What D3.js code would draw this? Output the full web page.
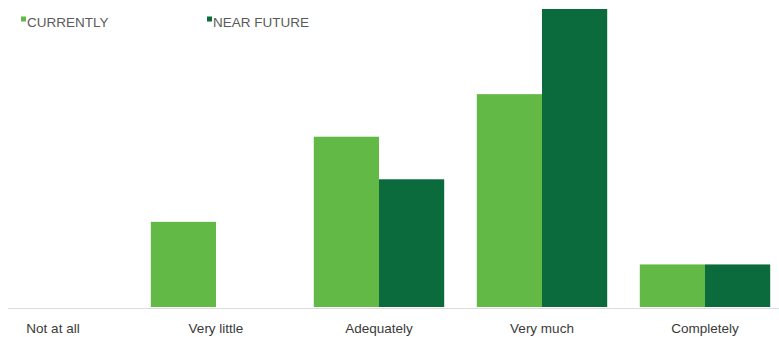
<!DOCTYPE html>
<html>
<head>
<meta charset="utf-8">
<script src="https://cdn.jsdelivr.net/npm/d3@7/dist/d3.min.js"></script>
<style>
  html, body { margin: 0; padding: 0; background: #ffffff; }
  svg { display: block; font-family: "Liberation Sans", Arial, sans-serif; }
</style>
</head>
<body>
<svg id="chart" width="779" height="337"></svg>
<script>
// Response categories along the x axis
const categories = ["Not at all", "Very little", "Adequately", "Very much", "Completely"];
// Series names (legend) and their colours
const seriesNames = ["CURRENTLY", "NEAR FUTURE"];
const seriesColors = ["#62b946", "#0b6b3c"];
// Number of responses per category
const currently = [0, 2, 4, 5, 1];
const nearFuture = [0, 0, 3, 7, 1];

const seriesValues = [currently, nearFuture];
const W = 779, H = 337;
const baseY = 307, topY = 9;

const svg = d3.select("#chart");

const x0 = d3.scaleBand()
  .domain(categories)
  .range([-28.5, 786.5])
  .paddingInner(0.2)
  .paddingOuter(0.1);

const x1 = d3.scaleBand()
  .domain(seriesNames)
  .range([0, x0.bandwidth()])
  .padding(0);

const y = d3.scaleLinear()
  .domain([0, 7])
  .range([baseY, topY]);

const color = d3.scaleOrdinal().domain(seriesNames).range(seriesColors);

// Baseline
svg.append("line")
  .attr("x1", 8).attr("x2", W)
  .attr("y1", baseY + 1.5).attr("y2", baseY + 1.5)
  .attr("stroke", "#dcdcdc").attr("stroke-width", 1);

// Bars
const rows = categories.map((c, i) => ({
  cat: c,
  vals: seriesNames.map((s, j) => ({ s, v: seriesValues[j][i] }))
}));

const groups = svg.append("g").selectAll("g")
  .data(rows)
  .join("g")
  .attr("transform", d => `translate(${x0(d.cat)},0)`);

groups.selectAll("rect")
  .data(d => d.vals.filter(e => e.v > 0))
  .join("rect")
  .attr("x", d => x1(d.s))
  .attr("width", x1.bandwidth())
  .attr("y", d => y(d.v))
  .attr("height", d => y(0) - y(d.v))
  .attr("fill", d => color(d.s));

// Category axis labels
const xAxis = d3.axisBottom(x0).tickSize(0).tickPadding(0);
const axisG = svg.append("g")
  .attr("transform", `translate(0,${baseY})`)
  .call(xAxis);
axisG.select(".domain").remove();
axisG.selectAll("text")
  .attr("y", 26)
  .attr("dy", 0)
  .attr("font-size", 13.5)
  .attr("font-family", "'Liberation Sans', Arial, sans-serif")
  .attr("fill", "#3a3a3a");

// Legend
const legendX = [21, 207];
const legend = svg.append("g").selectAll("g")
  .data(seriesNames)
  .join("g")
  .attr("transform", (d, i) => `translate(${legendX[i]},0)`);

legend.append("rect")
  .attr("x", 0).attr("y", 16.5)
  .attr("width", 5).attr("height", 5)
  .attr("fill", d => color(d));

legend.append("text")
  .attr("x", 6).attr("y", 27)
  .attr("font-size", 13.5)
  .attr("fill", "#5a5a5a")
  .text(d => d);
</script>
</body>
</html>
